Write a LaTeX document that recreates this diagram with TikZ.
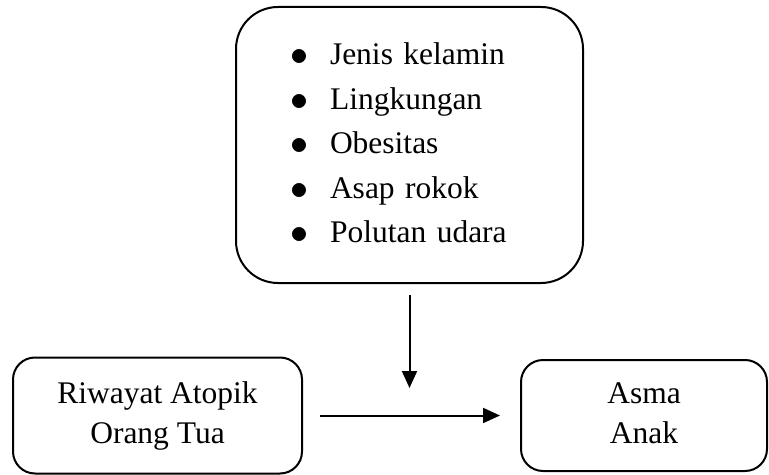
\documentclass[tikz,border=0pt]{standalone}
\usepackage{fontspec}
\setmainfont{Liberation Serif}
\usetikzlibrary{arrows.meta, positioning}
\newcommand{\butir}{\makebox[17pt][l]{\hspace*{-3pt}\raisebox{-0.4pt}{\scalebox{1.25}{$\bullet$}}}}

\begin{document}
\begin{tikzpicture}[x=0.5pt, y=-0.5pt, line width=1pt,
    kotak/.style={draw, align=center, rounded corners=11pt,
                  font=\fontsize{15.75}{20}\selectfont},
    panah/.style={-{Triangle[length=8.5pt,width=7.5pt]}}]
                \useasboundingbox (0,0) rectangle (769,475);
                % faktor risiko
                \node[kotak, rounded corners=21pt, minimum width=173.5pt, minimum height=138pt,
                      text width=113.5pt, align=left,
                      font=\fontsize{15.75}{22.25}\selectfont] (faktor) at (409.5,145)
                     {\strut\butir Jenis kelamin\\
                      \strut\butir Lingkungan\\
                      \strut\butir Obesitas\\
                      \strut\butir Asap rokok\\
                      \strut\butir Polutan udara};
                \node[kotak, minimum width=144.5pt, minimum height=58pt] (riwayat) at (157.5,415.5)
                     {\strut Riwayat Atopik\\\strut Orang Tua};
                \node[kotak, minimum width=123pt, minimum height=55.5pt] (asma) at (644,415.5)
                     {\strut Asma\\\strut Anak};
                \coordinate[below=52pt of faktor.south] (ujung);
                % panah
                \draw[panah, shorten <=5.5pt] (faktor.south) -- (ujung);
                \draw[panah, shorten <=8.5pt, shorten >=10pt] (riwayat.east) -- (asma.west);
            \end{tikzpicture}
\end{document}
